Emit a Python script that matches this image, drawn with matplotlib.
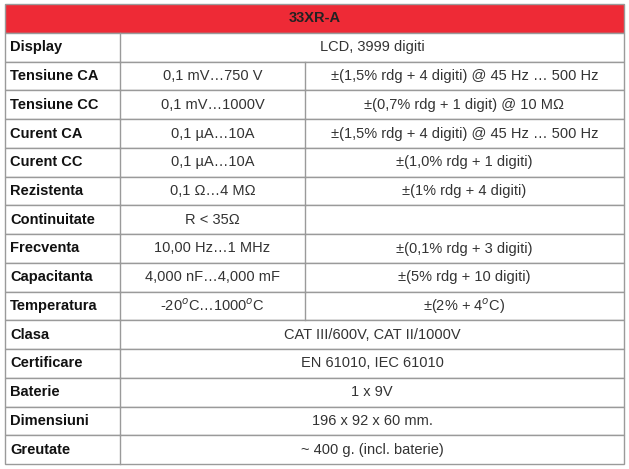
import matplotlib.pyplot as plt
from matplotlib.patches import Rectangle

plt.rcParams['font.family'] = ['Liberation Sans', 'DejaVu Sans']

title = '33XR-A'
labels = ['Display', 'Tensiune CA', 'Tensiune CC', 'Curent CA', 'Curent CC',
          'Rezistenta', 'Continuitate', 'Frecventa', 'Capacitanta', 'Temperatura',
          'Clasa', 'Certificare', 'Baterie', 'Dimensiuni', 'Greutate']
ranges = ['LCD, 3999 digiti', '0,1 mV…750 V', '0,1 mV…1000V', '0,1 µA…10A',
          '0,1 µA…10A', '0,1 Ω…4 MΩ', 'R < 35Ω', '10,00 Hz…1 MHz',
          '4,000 nF…4,000 mF', '-20$^{o}$C…1000$^{o}$C',
          'CAT III/600V, CAT II/1000V', 'EN 61010, IEC 61010', '1 x 9V',
          '196 x 92 x 60 mm.', '~ 400 g. (incl. baterie)']
accuracy = [None, '±(1,5% rdg + 4 digiti) @ 45 Hz … 500 Hz',
            '±(0,7% rdg + 1 digit) @ 10 MΩ',
            '±(1,5% rdg + 4 digiti) @ 45 Hz … 500 Hz',
            '±(1,0% rdg + 1 digiti)', '±(1% rdg + 4 digiti)', '',
            '±(0,1% rdg + 3 digiti)', '±(5% rdg + 10 digiti)',
            '±(2% + 4$^{o}$C)', None, None, None, None, None]

W, H = 629, 469
fig = plt.figure(figsize=(W / 100, H / 100), dpi=100)
ax = fig.add_axes([0, 0, 1, 1])
ax.set_xlim(0, W)
ax.set_ylim(H, 0)
ax.axis('off')

x0, x1, x2, x3 = 5, 120, 305, 624
top, head_h = 4, 29
row_h = (464 - (top + head_h)) / len(labels)
line = '#9a9a9a'
fs = 10.5

ax.add_patch(Rectangle((x0, top), x3 - x0, head_h, facecolor='#ee2a36',
                       edgecolor=line, lw=1))
ax.text((x0 + x3) / 2, top + head_h / 2, title, ha='center', va='center',
        fontsize=fs, fontweight='bold', color='#222222')

for i, lab in enumerate(labels):
    y = top + head_h + i * row_h
    ax.add_patch(Rectangle((x0, y), x3 - x0, row_h, facecolor='white',
                           edgecolor=line, lw=1))
    ax.plot([x1, x1], [y, y + row_h], color=line, lw=1)
    yc = y + row_h / 2
    ax.text(x0 + 5, yc, lab, ha='left', va='center', fontsize=fs,
            fontweight='bold', color='#111111')
    if accuracy[i] is None:
        ax.text((x1 + x3) / 2, yc, ranges[i], ha='center', va='center',
                fontsize=fs, color='#333333')
    else:
        ax.plot([x2, x2], [y, y + row_h], color=line, lw=1)
        ax.text((x1 + x2) / 2, yc, ranges[i], ha='center', va='center',
                fontsize=fs, color='#333333')
        ax.text((x2 + x3) / 2, yc, accuracy[i], ha='center', va='center',
                fontsize=fs, color='#333333')

fig.savefig('out.png', dpi=100)
